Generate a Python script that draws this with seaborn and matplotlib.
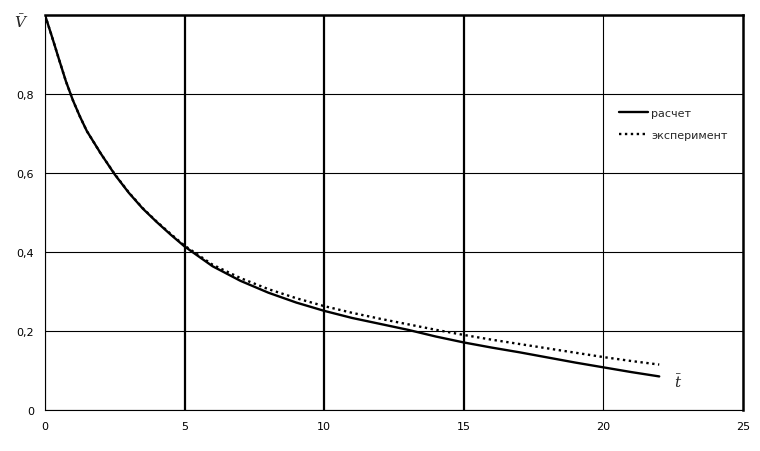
import numpy as np
import pandas as pd
import seaborn as sns
import matplotlib.pyplot as plt
from matplotlib.ticker import FuncFormatter

# Значения
t = [0, 0.25, 0.5, 0.75, 1, 1.25, 1.5, 2, 2.5, 3, 3.5, 4, 4.5, 5,
     6, 7, 8, 9, 10, 11, 12, 13, 14, 15, 16, 17, 18, 19, 20, 21, 22]
v_calc = [1.0, 0.945, 0.888, 0.832, 0.784, 0.743, 0.706, 0.649, 0.596, 0.550, 0.510, 0.476, 0.444, 0.414,
          0.364, 0.327, 0.297, 0.272, 0.251, 0.233, 0.218, 0.203, 0.186, 0.171, 0.158, 0.146,
          0.133, 0.120, 0.108, 0.096, 0.085]
v_exp = [1.0, 0.945, 0.888, 0.832, 0.784, 0.743, 0.706, 0.649, 0.597, 0.551, 0.511, 0.477, 0.446, 0.416,
         0.368, 0.334, 0.306, 0.283, 0.263, 0.246, 0.231, 0.217, 0.203, 0.190, 0.178, 0.167,
         0.156, 0.145, 0.134, 0.124, 0.115]
labels = ['расчет', 'эксперимент']

df = pd.concat([
    pd.DataFrame({'t': t, 'V': v_calc, 'серия': labels[0]}),
    pd.DataFrame({'t': t, 'V': v_exp, 'серия': labels[1]}),
])

sns.set_style('white')
plt.rcParams['font.family'] = ['DejaVu Sans']
plt.rcParams['mathtext.fontset'] = 'dejavuserif'

fig = plt.figure(figsize=(7.6, 4.52), dpi=100)
ax = fig.add_axes([45 / 760, 1 - 411 / 452, 698 / 760, 395 / 452])

sns.lineplot(data=df, x='t', y='V', style='серия', style_order=labels,
             dashes={labels[0]: '', labels[1]: (1, 1.5)},
             color='black', linewidth=1.7, ax=ax, legend=True)

ax.set_xlim(0, 25)
ax.set_ylim(0, 1)
ax.set_xticks([0, 5, 10, 15, 20, 25])
ax.set_yticks([0, 0.2, 0.4, 0.6, 0.8, 1.0])
ax.yaxis.set_major_formatter(FuncFormatter(
    lambda v, p: '' if v > 0.9 else ('0' if v == 0 else f'{v:.1f}'.replace('.', ','))))
ax.tick_params(length=0, labelsize=8, colors='black', pad=8)
ax.set_xlabel('')
ax.set_ylabel('')

ax.grid(True, color='black', linewidth=0.8)
for i, gl in enumerate(ax.get_xgridlines()):
    gl.set_linewidth(1.6 if i in (1, 2, 3) else 0.8)
ax.set_axisbelow(True)

for side, lw in [('left', 0.8), ('bottom', 0.8), ('top', 1.8), ('right', 1.8)]:
    ax.spines[side].set_color('black')
    ax.spines[side].set_linewidth(lw)

leg = ax.legend(loc='upper left', bbox_to_anchor=(0.822, 0.765), frameon=False,
                fontsize=8, handlelength=2.6, handletextpad=0.3, labelspacing=1.1,
                borderpad=0, borderaxespad=0)

ax.text(-0.034, 0.985, r'$\bar{V}$', transform=ax.transAxes, fontsize=11,
        ha='center', va='center')
ax.text(0.907, 0.072, r'$\bar{t}$', transform=ax.transAxes, fontsize=11,
        ha='center', va='center')

fig.savefig('out.png', dpi=100)
